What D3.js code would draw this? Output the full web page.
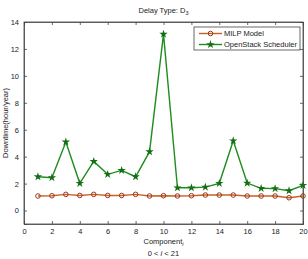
<!DOCTYPE html>
<html>
<head>
<meta charset="utf-8">
<script src="https://cdn.jsdelivr.net/npm/d3@7"></script>
<style>
  body { margin: 0; background: #fff; }
  text { font-family: "Liberation Sans", Arial, sans-serif; fill: #222; }
</style>
</head>
<body>
<div id="chart"></div>
<script>
const width = 308,
    height = 259,
    margin = { top: 22, right: 5, bottom: 35, left: 24 };

// component index 1..20
const components = d3.range(1, 21);
const milp = [1.08, 1.1, 1.2, 1.12, 1.2, 1.12, 1.12, 1.2, 1.08, 1.1,
    1.08, 1.1, 1.15, 1.15, 1.15, 1.08, 1.08, 1.08, 0.95, 1.08];
const openstack = [2.51, 2.44, 5.09, 2.02, 3.65, 2.69, 2.98, 2.51, 4.37, 13.1,
    1.69, 1.69, 1.74, 2.02, 5.18, 2.04, 1.65, 1.63, 1.47, 1.87];
const xTicks = [0, 2, 4, 6, 8, 10, 12, 14, 16, 18, 20];
const yTicks = [0, 2, 4, 6, 8, 10, 12, 14];
const seriesNames = ['MILP Model', 'OpenStack Scheduler'];

const svg = d3.select('#chart')
    .append('svg')
    .attr('width', width)
    .attr('height', height);

const xScale = d3.scaleLinear()
    .domain([0, 20])
    .range([margin.left, width - margin.right]);
const yScale = d3.scaleLinear()
    .domain([-1, 14])
    .range([height - margin.bottom, margin.top]);

// plot box
svg.append('rect')
    .attr('x', xScale(0))
    .attr('y', yScale(14))
    .attr('width', xScale(20) - xScale(0))
    .attr('height', yScale(-1) - yScale(14))
    .attr('fill', '#fff')
    .attr('stroke', '#444')
    .attr('stroke-width', 0.8);

// axes, matlab style ticks pointing inwards
const xAxis = d3.axisBottom(xScale).tickValues(xTicks).tickSize(-3).tickPadding(5);
const yAxis = d3.axisLeft(yScale).tickValues(yTicks).tickSize(-3).tickPadding(5);

svg.append('g')
    .attr('transform', 'translate(0,' + yScale(-1) + ')')
    .call(xAxis);
svg.append('g')
    .attr('transform', 'translate(' + xScale(0) + ',0)')
    .call(yAxis);
svg.append('g')
    .attr('transform', 'translate(0,' + yScale(14) + ')')
    .call(d3.axisTop(xScale).tickValues(xTicks).tickSize(-3).tickFormat(''));
svg.append('g')
    .attr('transform', 'translate(' + xScale(20) + ',0)')
    .call(d3.axisRight(yScale).tickValues(yTicks).tickSize(-3).tickFormat(''));

svg.selectAll('.domain').attr('stroke', '#444').attr('stroke-width', 0.8);
svg.selectAll('.tick line').attr('stroke', '#444').attr('stroke-width', 0.8);
svg.selectAll('.tick text').style('font-size', '7.5px').attr('fill', '#333');

// lines
const line = d3.line()
    .x((d, i) => xScale(components[i]))
    .y(d => yScale(d));

svg.append('path')
    .datum(milp)
    .attr('d', line)
    .attr('fill', 'none')
    .attr('stroke', '#c8602a')
    .attr('stroke-width', 1.4);

svg.append('path')
    .datum(openstack)
    .attr('d', line)
    .attr('fill', 'none')
    .attr('stroke', '#1e8c1e')
    .attr('stroke-width', 1.4);

// markers
const star = d3.symbol().type(d3.symbolStar).size(22);

svg.selectAll('.milp')
    .data(milp)
    .enter()
    .append('circle')
    .attr('class', 'milp')
    .attr('cx', (d, i) => xScale(components[i]))
    .attr('cy', d => yScale(d))
    .attr('r', 2.3)
    .attr('fill', 'none')
    .attr('stroke', '#9a3a1a')
    .attr('stroke-width', 1);

svg.selectAll('.os')
    .data(openstack)
    .enter()
    .append('path')
    .attr('class', 'os')
    .attr('d', star)
    .attr('transform', (d, i) => 'translate(' + xScale(components[i]) + ',' + yScale(d) + ')')
    .attr('fill', '#146e14');

// legend
const lg = svg.append('g').attr('transform', 'translate(194,27)');
lg.append('rect')
    .attr('width', 106)
    .attr('height', 23)
    .attr('fill', '#fff')
    .attr('stroke', '#444')
    .attr('stroke-width', 0.8);

seriesNames.forEach((name, i) => {
    const yy = 6.5 + i * 11;
    lg.append('line')
        .attr('x1', 5).attr('x2', 28)
        .attr('y1', yy).attr('y2', yy)
        .attr('stroke', i === 0 ? '#c8602a' : '#1e8c1e')
        .attr('stroke-width', 1.4);
    if (i === 0) {
        lg.append('circle')
            .attr('cx', 16.5).attr('cy', yy).attr('r', 2.3)
            .attr('fill', 'none').attr('stroke', '#9a3a1a');
    } else {
        lg.append('path')
            .attr('d', star)
            .attr('transform', 'translate(16.5,' + yy + ')')
            .attr('fill', '#146e14');
    }
    lg.append('text')
        .attr('x', 30)
        .attr('y', yy + 2.7)
        .style('font-size', '7.5px')
        .text(name);
});

// title
const title = svg.append('text')
    .attr('x', (xScale(0) + xScale(20)) / 2)
    .attr('y', 13)
    .attr('text-anchor', 'middle')
    .style('font-size', '7.5px');
title.append('tspan').text('Delay Type: D');
title.append('tspan').attr('dy', 2).style('font-size', '5.5px').text('3');

// axis labels
const xl = svg.append('text')
    .attr('x', (xScale(0) + xScale(20)) / 2)
    .attr('y', 243.5)
    .attr('text-anchor', 'middle')
    .style('font-size', '7.5px');
xl.append('tspan').text('Component');
xl.append('tspan').attr('dy', 2).style('font-size', '5.5px').style('font-style', 'italic').text('i');

const xl2 = svg.append('text')
    .attr('x', (xScale(0) + xScale(20)) / 2)
    .attr('y', 256)
    .attr('text-anchor', 'middle')
    .style('font-size', '7.5px');
xl2.append('tspan').text('0 < ');
xl2.append('tspan').style('font-style', 'italic').text('i');
xl2.append('tspan').text(' < 21');

svg.append('text')
    .attr('transform', 'translate(8,' + ((yScale(-1) + yScale(14)) / 2) + ') rotate(-90)')
    .attr('text-anchor', 'middle')
    .style('font-size', '7.5px')
    .text('Downtime(hour/year)');
</script>
</body>
</html>
